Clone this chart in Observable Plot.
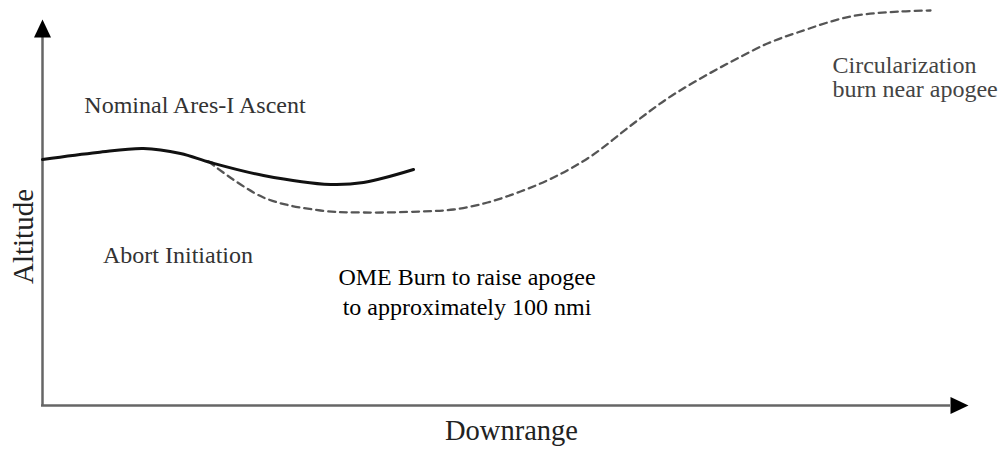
<!DOCTYPE html>
<html>
<head>
<meta charset="utf-8">
<script src="https://cdn.jsdelivr.net/npm/d3@7"></script>
<script src="https://cdn.jsdelivr.net/npm/@observablehq/plot@0.6"></script>
<style>
  html, body { margin: 0; padding: 0; background: #fff; }
  #chart svg { display: block; }
  #chart svg text { font-family: 'Liberation Serif', 'Times New Roman', serif; }
</style>
</head>
<body>
<div id="chart"></div>
<script>
// Nominal Ares-I ascent (solid) — downrange / altitude in arbitrary units
const nominalDownrange = [0, 55, 101, 138, 168, 221, 288, 321, 371];
const nominalAltitude  = [246, 253, 257, 252, 243, 230, 221, 223, 236];

// Abort trajectory (dashed)
const abortDownrange = [166, 221, 278, 321, 378, 411, 445, 478, 511, 548, 591, 625, 658, 691, 725, 755, 808, 858, 888];
const abortAltitude  = [244, 208, 195, 193, 194, 196, 203, 214, 228, 249, 282, 307, 327, 345, 362, 373, 389, 394, 395];

// Axis extents (arrow bases)
const axisDownrangeEnd = 908;
const axisAltitudeEnd = 368;

// Annotations
const annoText = [
  "Nominal Ares-I Ascent",
  "Abort Initiation",
  "Circularization\nburn near apogee"
];
const annoDownrange = [152.5, 135.5, 790];
const annoAltitude  = [299.7, 149.7, 327.7];

const omeText = "OME Burn to raise apogee\nto approximately 100 nmi";
const omeDownrange = 424.5;
const omeAltitude = 114.7;

const xLabel = "Downrange";
const yLabel = "Altitude";

const nominal = nominalDownrange.map((d, i) => ({x: d, y: nominalAltitude[i]}));
const abort = abortDownrange.map((d, i) => ({x: d, y: abortAltitude[i]}));
const annos = annoText.map((t, i) => ({text: t, x: annoDownrange[i], y: annoAltitude[i]}));

// isosceles arrowhead symbol: base centred at origin, tip pointing up
const arrowHead = {
  draw(ctx) {
    ctx.moveTo(0, -18);
    ctx.lineTo(8.5, 0);
    ctx.lineTo(-8.5, 0);
    ctx.closePath();
  }
};

const font = "Liberation Serif";

const chart = Plot.plot({
  width: 1006,
  height: 451,
  marginLeft: 42,
  marginRight: 0,
  marginTop: 0,
  marginBottom: 46,
  x: {domain: [0, 964], axis: null},
  y: {domain: [0, 405], axis: null},
  style: {fontFamily: font, background: "#fff"},
  marks: [
    // axes
    Plot.ruleX([0], {y1: 0, y2: axisAltitudeEnd, stroke: "#666", strokeWidth: 2.5}),
    Plot.ruleY([0], {x1: -1, x2: axisDownrangeEnd, stroke: "#666", strokeWidth: 2.5}),
    Plot.dot([{x: 0, y: axisAltitudeEnd}], {x: "x", y: "y", symbol: arrowHead, fill: "#000", stroke: "none", r: 5}),
    Plot.dot([{x: axisDownrangeEnd, y: 0}], {x: "x", y: "y", symbol: arrowHead, fill: "#000", stroke: "none", r: 5, rotate: 90}),
    // trajectories
    Plot.line(abort, {x: "x", y: "y", curve: "catmull-rom", stroke: "#555", strokeWidth: 2.3, strokeDasharray: "7,5"}),
    Plot.line(nominal, {x: "x", y: "y", curve: "catmull-rom", stroke: "#111", strokeWidth: 3}),
    // annotations
    Plot.text(annos.slice(0, 2), {x: "x", y: "y", text: "text", fontSize: 24, fontFamily: font, fill: "#333", textAnchor: "middle"}),
    Plot.text(annos.slice(2), {x: "x", y: "y", text: "text", fontSize: 24, fontFamily: font, fill: "#444", textAnchor: "start", lineHeight: 1.0}),
    Plot.text([omeText], {x: () => omeDownrange, y: () => omeAltitude, text: d => d, fontSize: 24, fontFamily: font, fill: "#000", textAnchor: "middle", lineHeight: 1.25}),
    // axis titles
    Plot.text([xLabel], {x: () => 469, y: () => -24.9, text: d => d, fontSize: 28.5, fontFamily: font, fill: "#222"}),
    Plot.text([yLabel], {x: () => -18.3, y: () => 169, text: d => d, fontSize: 29, fontFamily: font, fill: "#222", rotate: -90})
  ]
});

document.getElementById("chart").appendChild(chart);
</script>
</body>
</html>
